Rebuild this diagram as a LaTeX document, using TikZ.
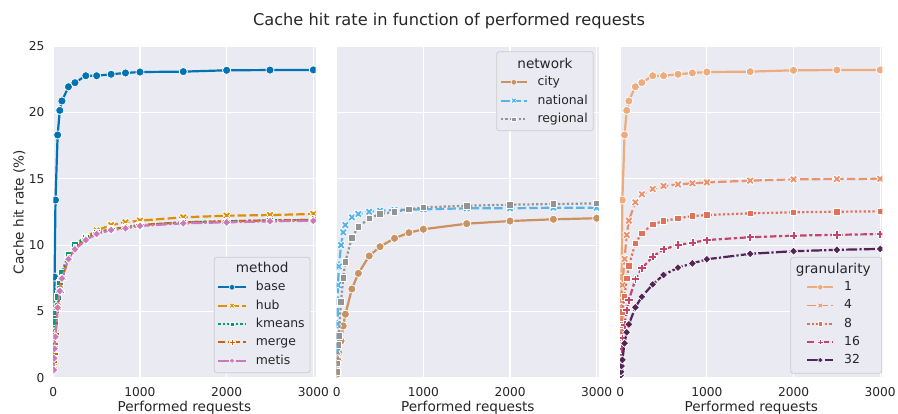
\documentclass[tikz,border=0pt]{standalone}
\usepackage{fontspec}
\setmainfont{DejaVu Sans}
\usetikzlibrary{plotmarks}
\definecolor{cbg}{HTML}{EAEAF2}
\definecolor{ctext}{HTML}{262626}
\definecolor{cframe}{HTML}{CCCCCC}
\definecolor{cbase}{HTML}{0173B2}
\definecolor{chub}{HTML}{DE8F05}
\definecolor{ckm}{HTML}{029E73}
\definecolor{cmerge}{HTML}{D55E00}
\definecolor{cmetis}{HTML}{CC78BC}
\definecolor{ccity}{HTML}{CA9161}
\definecolor{cnat}{HTML}{56B4E9}
\definecolor{creg}{HTML}{949494}
\definecolor{gone}{HTML}{ECAC7D}
\definecolor{gfour}{HTML}{E8926F}
\definecolor{geight}{HTML}{E2715A}
\definecolor{gsixteen}{HTML}{C4446A}
\definecolor{gtt}{HTML}{532455}
\pgfdeclareplotmark{mo}{\pgfpathcircle{\pgfpointorigin}{\pgfplotmarksize}\pgfusepathqfillstroke}
\pgfdeclareplotmark{ms}{\pgfpathrectangle{\pgfqpoint{-.8\pgfplotmarksize}{-.8\pgfplotmarksize}}{\pgfqpoint{1.6\pgfplotmarksize}{1.6\pgfplotmarksize}}\pgfusepathqfillstroke}
\pgfdeclareplotmark{mD}{\pgfpathmoveto{\pgfqpoint{0pt}{\pgfplotmarksize}}\pgfpathlineto{\pgfqpoint{\pgfplotmarksize}{0pt}}\pgfpathlineto{\pgfqpoint{0pt}{-\pgfplotmarksize}}\pgfpathlineto{\pgfqpoint{-\pgfplotmarksize}{0pt}}\pgfpathclose\pgfusepathqfillstroke}
\newcommand\mpplus[2]{%
 \pgfpathmoveto{\pgfqpoint{#2}{#1}}%
 \pgfpathlineto{\pgfqpoint{#2}{#2}}%
 \pgfpathlineto{\pgfqpoint{#1}{#2}}%
 \pgfpathlineto{\pgfqpoint{#1}{-#2}}%
 \pgfpathlineto{\pgfqpoint{#2}{-#2}}%
 \pgfpathlineto{\pgfqpoint{#2}{-#1}}%
 \pgfpathlineto{\pgfqpoint{-#2}{-#1}}%
 \pgfpathlineto{\pgfqpoint{-#2}{-#2}}%
 \pgfpathlineto{\pgfqpoint{-#1}{-#2}}%
 \pgfpathlineto{\pgfqpoint{-#1}{#2}}%
 \pgfpathlineto{\pgfqpoint{-#2}{#2}}%
 \pgfpathlineto{\pgfqpoint{-#2}{#1}}%
 \pgfpathclose\pgfusepathqfillstroke}
\pgfdeclareplotmark{mP}{\mpplus{\pgfplotmarksize}{.36\pgfplotmarksize}}
\pgfdeclareplotmark{mX}{%
 \pgfpathmoveto{\pgfqpoint{-.5\pgfplotmarksize}{-\pgfplotmarksize}}%
 \pgfpathlineto{\pgfqpoint{0pt}{-.5\pgfplotmarksize}}%
 \pgfpathlineto{\pgfqpoint{.5\pgfplotmarksize}{-\pgfplotmarksize}}%
 \pgfpathlineto{\pgfqpoint{\pgfplotmarksize}{-.5\pgfplotmarksize}}%
 \pgfpathlineto{\pgfqpoint{.5\pgfplotmarksize}{0pt}}%
 \pgfpathlineto{\pgfqpoint{\pgfplotmarksize}{.5\pgfplotmarksize}}%
 \pgfpathlineto{\pgfqpoint{.5\pgfplotmarksize}{\pgfplotmarksize}}%
 \pgfpathlineto{\pgfqpoint{0pt}{.5\pgfplotmarksize}}%
 \pgfpathlineto{\pgfqpoint{-.5\pgfplotmarksize}{\pgfplotmarksize}}%
 \pgfpathlineto{\pgfqpoint{-\pgfplotmarksize}{.5\pgfplotmarksize}}%
 \pgfpathlineto{\pgfqpoint{-.5\pgfplotmarksize}{0pt}}%
 \pgfpathlineto{\pgfqpoint{-\pgfplotmarksize}{-.5\pgfplotmarksize}}%
 \pgfpathclose\pgfusepathqfillstroke}
\tikzset{
 gridline/.style={white, line width=1.1pt},
 ln/.style={line width=2.2pt, line cap=butt, line join=round},
 lsolid/.style={ln, solid},
 ldash/.style={ln, dash pattern=on 8.5pt off 3.2pt},
 ldot/.style={ln, dash pattern=on 2.2pt off 2.2pt},
 ldd/.style={ln, dash pattern=on 6.5pt off 2.7pt on 3.2pt off 2.7pt},
 ldl/.style={ln, dash pattern=on 11pt off 2.2pt on 2.2pt off 2.2pt},
 mk/.style={mark size=4.1pt, mark options={solid, fill=#1, draw=white, line width=0.75pt}},
 mkl/.style={mark size=2.8pt, mark options={solid, fill=#1, draw=white, line width=0.5pt}},
 legframe/.style={draw=cframe, fill=cbg, line width=0.8pt, rounded corners=2.5pt},
 ytick/.style={anchor=east, inner sep=0pt, text=ctext, font=\fontsize{12.2}{14}\selectfont},
 xtick/.style={anchor=base, inner sep=0pt, text=ctext, font=\fontsize{12.2}{14}\selectfont},
 legtxt/.style={anchor=base west, inner sep=0pt, text=ctext, font=\fontsize{12.4}{14}\selectfont},
 legtitle/.style={anchor=base, inner sep=0pt, text=ctext, font=\fontsize{13.6}{16}\selectfont},
 axlab/.style={anchor=base, inner sep=0pt, text=ctext, font=\fontsize{13.6}{16}\selectfont},
 ttl/.style={anchor=base, inner sep=0pt, text=ctext, font=\fontsize{16.2}{19}\selectfont},
}
\begin{document}
\begin{tikzpicture}[x=1pt,y=-1pt]
\useasboundingbox (0,0) rectangle (898,414);
\fill[white] (0,0) rectangle (898,414);
% axes backgrounds and grids
\foreach \p in {53.3,336.7,620.2} {
  \fill[cbg] (\p,46) rectangle ({\p+262.2},378);
  \foreach \k in {0,...,5} \draw[gridline] (\p,{378-66.4*\k}) -- ({\p+262.2},{378-66.4*\k});
  \foreach \j in {0,...,3} \draw[gridline] ({\p+86.67*\j},46) -- ({\p+86.67*\j},378);
}
% ---------- panel 1 ----------
\begin{scope}
\clip (53.3,46) rectangle (315.5,378);
\begin{scope}[shift={(53.3,378)}, x=0.08667pt, y=13.28pt]
\draw[lsolid, cbase, mark=mo, mk=cbase] plot coordinates {(5,4.1) (10,4.6) (15,7.6) (25,13.4) (50,18.3) (75,20.15) (100,20.86) (175,21.93) (250,22.24) (375,22.76) (500,22.76) (667,22.87) (833,22.97) (1000,23.04) (1500,23.07) (2000,23.17) (2500,23.19) (3000,23.2)};
\draw[ldash, chub, mark=mX, mk=chub] plot coordinates {(5,0.9) (10,1.6) (15,2.5) (25,3.4) (50,5.4) (75,6.7) (100,7.7) (175,9.1) (250,9.9) (375,10.6) (500,11.1) (667,11.52) (833,11.72) (1000,11.85) (1500,12.1) (2000,12.22) (2500,12.27) (3000,12.35)};
\draw[ldot, ckm, mark=ms, mk=ckm] plot coordinates {(5,1.5) (10,2.8) (15,4.24) (25,5.0) (50,6.1) (75,7.2) (100,7.96) (175,9.3) (250,10.07) (375,10.6) (500,10.95) (667,11.2) (833,11.35) (1000,11.5) (1500,11.72) (2000,11.8) (2500,11.87) (3000,11.9)};
\draw[ldd, cmerge, mark=mP, mk=cmerge] plot coordinates {(5,1.2) (10,1.8) (15,2.6) (25,3.3) (50,5.2) (75,6.5) (100,7.5) (175,9.0) (250,9.75) (375,10.45) (500,10.9) (667,11.2) (833,11.35) (1000,11.52) (1500,11.72) (2000,11.8) (2500,11.87) (3000,11.9)};
\draw[ldl, cmetis, mark=mD, mk=cmetis] plot coordinates {(5,0.6) (10,1.48) (15,2.2) (25,3.1) (50,5.3) (75,6.55) (100,7.5) (175,8.95) (250,9.69) (375,10.39) (500,10.84) (667,11.14) (833,11.27) (1000,11.45) (1500,11.65) (2000,11.72) (2500,11.8) (3000,11.84)};
\end{scope}
\end{scope}
% ---------- panel 2 ----------
\begin{scope}
\clip (336.7,46) rectangle (598.9,378);
\begin{scope}[shift={(336.7,378)}, x=0.08667pt, y=13.28pt]
\draw[lsolid, ccity, mark=mo, mk=ccity] plot coordinates {(5,0.3) (10,0.47) (15,1.3) (25,1.9) (50,2.79) (75,3.92) (100,4.8) (175,6.7) (250,7.88) (375,9.19) (500,9.89) (667,10.52) (833,10.94) (1000,11.2) (1500,11.62) (2000,11.82) (2500,11.95) (3000,12.03)};
\draw[ldash, cnat, mark=mX, mk=cnat] plot coordinates {(5,1.98) (10,4.07) (15,7.0) (25,8.4) (50,10.0) (75,10.97) (100,11.52) (175,12.1) (250,12.35) (375,12.52) (500,12.6) (667,12.65) (833,12.68) (1000,12.7) (1500,12.78) (2000,12.78) (2500,12.82) (3000,12.82)};
\draw[ldot, creg, mark=ms, mk=creg] plot coordinates {(5,0.47) (10,1.1) (15,2.5) (25,3.16) (50,5.75) (75,7.55) (100,8.76) (175,10.56) (250,11.39) (375,12.02) (500,12.35) (667,12.52) (833,12.7) (1000,12.85) (1500,12.97) (2000,13.05) (2500,13.1) (3000,13.15)};
\end{scope}
\end{scope}
% ---------- panel 3 ----------
\begin{scope}
\clip (620.2,46) rectangle (882.4,378);
\begin{scope}[shift={(620.2,378)}, x=0.08667pt, y=13.28pt]
\draw[lsolid, gone, mark=mo, mk=gone] plot coordinates {(5,4.1) (10,4.6) (15,7.6) (25,13.4) (50,18.3) (75,20.15) (100,20.86) (175,21.93) (250,22.24) (375,22.76) (500,22.76) (667,22.87) (833,22.97) (1000,23.04) (1500,23.07) (2000,23.17) (2500,23.19) (3000,23.2)};
\draw[ldash, gfour, mark=mX, mk=gfour] plot coordinates {(5,1.5) (10,3.5) (15,5.8) (25,7.0) (50,8.96) (75,10.77) (100,11.85) (175,13.23) (250,13.83) (375,14.23) (500,14.46) (667,14.58) (833,14.66) (1000,14.73) (1500,14.86) (2000,14.96) (2500,14.98) (3000,15.0)};
\draw[ldot, geight, mark=ms, mk=geight] plot coordinates {(5,1.0) (10,2.5) (15,4.0) (25,5.0) (50,6.12) (75,7.5) (100,8.43) (175,10.14) (250,10.9) (375,11.57) (500,11.82) (667,12.02) (833,12.2) (1000,12.27) (1500,12.4) (2000,12.48) (2500,12.52) (3000,12.55)};
\draw[ldd, gsixteen, mark=mP, mk=gsixteen] plot coordinates {(5,0.6) (10,1.3) (15,2.2) (25,3.0) (50,4.0) (75,5.12) (100,5.87) (175,7.43) (250,8.26) (375,9.13) (500,9.69) (667,10.02) (833,10.19) (1000,10.39) (1500,10.6) (2000,10.72) (2500,10.78) (3000,10.84)};
\draw[ldl, gtt, mark=mD, mk=gtt] plot coordinates {(5,0.2) (10,0.47) (15,0.9) (25,1.36) (50,2.61) (75,3.44) (100,4.04) (175,5.32) (250,6.12) (375,7.05) (500,7.76) (667,8.31) (833,8.63) (1000,8.94) (1500,9.35) (2000,9.55) (2500,9.65) (3000,9.72)};
\end{scope}
\end{scope}
% ---------- legends ----------
\draw[legframe] (214.3,257.3) rectangle (310,372.7);
\node[legtitle] (lt1) at (262.2,272.7) {method};
\foreach \st/\mk/\cl/\tx [count=\i from 0] in {lsolid/mo/cbase/base, ldash/mX/chub/hub, ldot/ms/ckm/kmeans, ldd/mP/cmerge/merge, ldl/mD/cmetis/metis} {
  \pgfmathsetmacro\yy{287.3+18.35*\i}
  \draw[\st, line width=1.8pt, \cl, mark=\mk, mkl=\cl, mark indices={2}] plot coordinates {(218.3,\yy) (232,\yy) (245.7,\yy)};
  \node[legtxt] (le1\i) at (255.7,{\yy+3.4}) {\tx};
}
\draw[legframe] (496.7,51.7) rectangle (593.3,130.7);
\node[legtitle] (lt2) at (545,68.3) {network};
\foreach \st/\mk/\cl/\tx [count=\i from 0] in {lsolid/mo/ccity/city, ldash/mX/cnat/national, ldot/ms/creg/regional} {
  \pgfmathsetmacro\yy{82.3+18.35*\i}
  \draw[\st, line width=1.8pt, \cl, mark=\mk, mkl=\cl, mark indices={2}] plot coordinates {(501,\yy) (513.85,\yy) (526.7,\yy)};
  \node[legtxt] (le2\i) at (537.3,{\yy+3.4}) {\tx};
}
\draw[legframe] (790.7,257.3) rectangle (881.7,373.3);
\node[legtitle] (lt3) at (833.3,274) {granularity};
\foreach \st/\mk/\cl/\tx [count=\i from 0] in {lsolid/mo/gone/1, ldash/mX/gfour/4, ldot/ms/geight/8, ldd/mP/gsixteen/16, ldl/mD/gtt/32} {
  \pgfmathsetmacro\yy{287.3+18.2*\i}
  \draw[\st, line width=1.8pt, \cl, mark=\mk, mkl=\cl, mark indices={2}] plot coordinates {(807.3,\yy) (820.3,\yy) (833.3,\yy)};
  \node[legtxt] (le3\i) at (844,{\yy+3.4}) {\tx};
}
% ---------- ticks ----------
\foreach \v [count=\k from 0] in {0,5,10,15,20,25}
  \node[ytick] (yt\k) at (44.5,{378-66.4*\k}) {\v};
\foreach \p [count=\n] in {53.3,336.7,620.2}
  \foreach \v [count=\j from 0] in {0,1000,2000,3000}
    \node[xtick] (xt\n\j) at ({\p+86.67*\j},396.5) {\v};
% ---------- labels ----------
\node[axlab] (xl1) at (184.4,411) {Performed requests};
\node[axlab] (xl2) at (467.8,411) {Performed requests};
\node[axlab] (xl3) at (751.3,411) {Performed requests};
\node[axlab, rotate=90] (yl) at (23.5,212) {Cache hit rate (\%)};
\node[ttl] (title) at (449,26) {Cache hit rate in function of performed requests};
\end{tikzpicture}
\end{document}
